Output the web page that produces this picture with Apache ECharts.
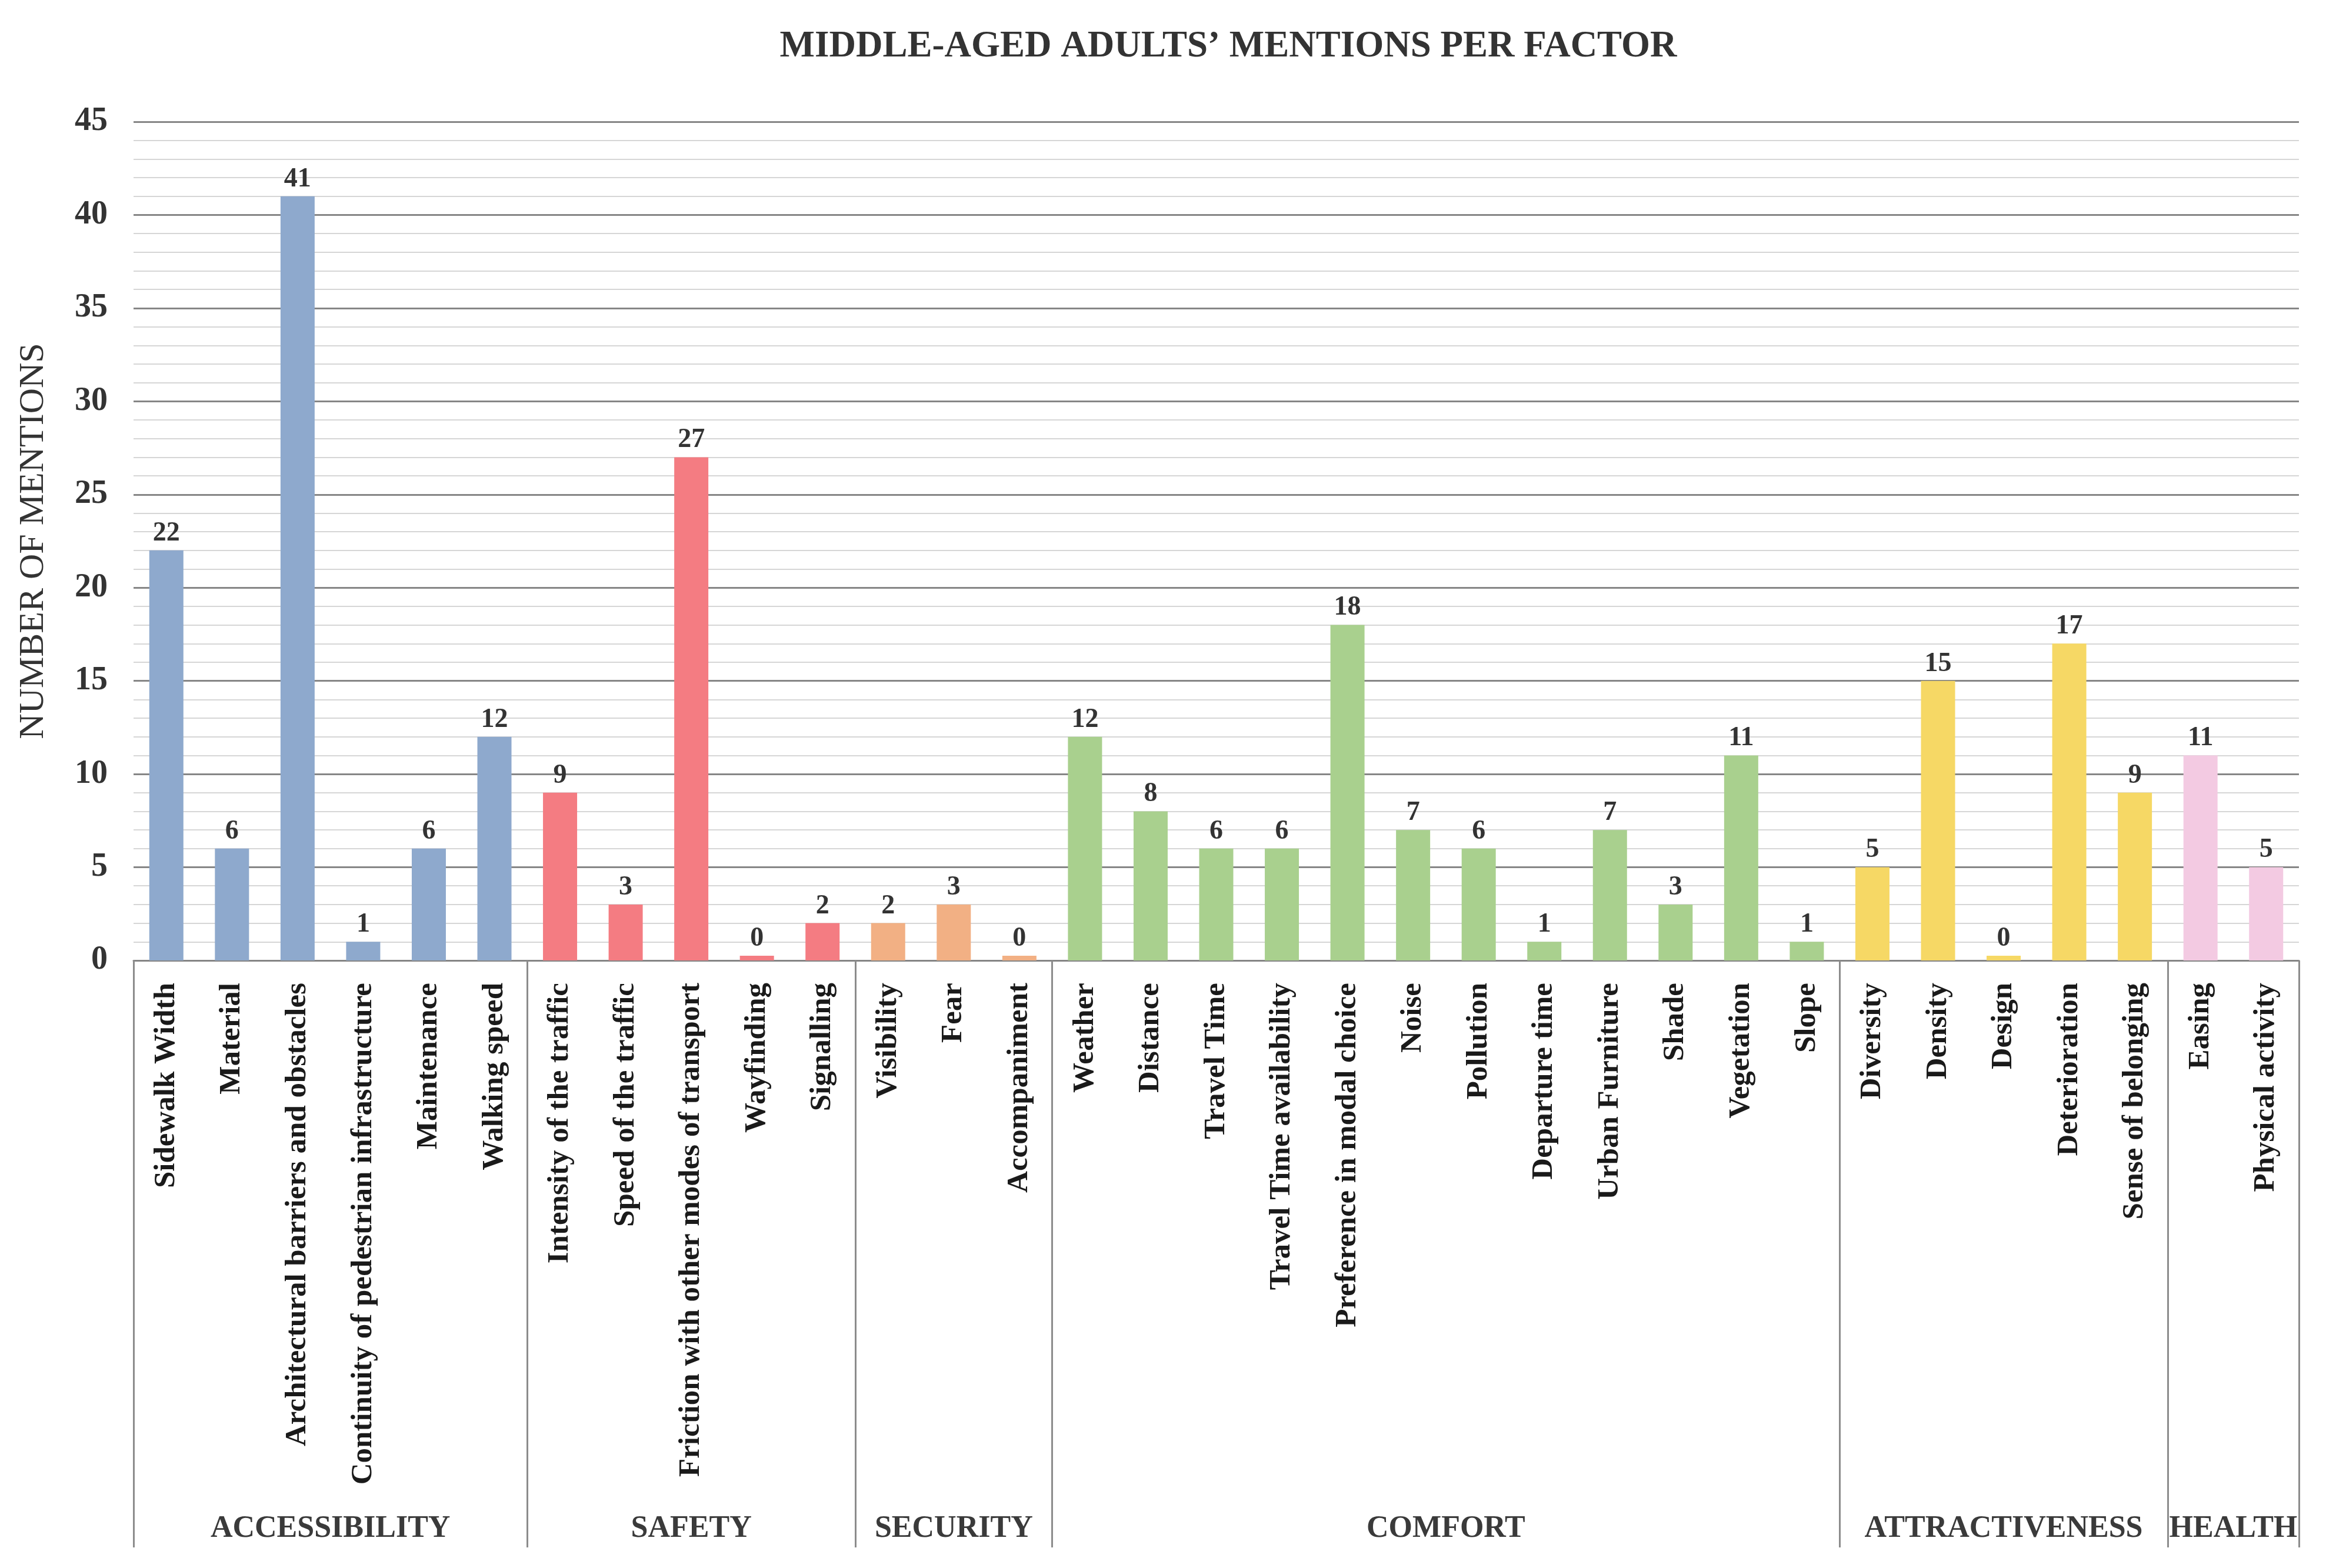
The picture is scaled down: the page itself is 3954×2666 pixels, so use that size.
<!DOCTYPE html>
<html>
<head>
<meta charset="utf-8">
<script src="https://cdn.jsdelivr.net/npm/echarts@6/dist/echarts.min.js"></script>
<style>
html,body{margin:0;padding:0;background:#fff;}
#chart{width:3954px;height:2666px;}
</style>
</head>
<body>
<div id="chart"></div>
<script>
// ---- data ----
const categories = [
  "Sidewalk Width","Material","Architectural barriers and obstacles","Continuity of pedestrian infrastructure","Maintenance","Walking speed",
  "Intensity of the traffic","Speed of the traffic","Friction with other modes of transport","Wayfinding","Signalling",
  "Visibility","Fear","Accompaniment",
  "Weather","Distance","Travel Time","Travel Time availability","Preference in modal choice","Noise","Pollution","Departure time","Urban Furniture","Shade","Vegetation","Slope",
  "Diversity","Density","Design","Deterioration","Sense of belonging",
  "Easing","Physical activity"
];
const values = [
  22, 6, 41, 1, 6, 12,
  9, 3, 27, 0, 2,
  2, 3, 0,
  12, 8, 6, 6, 18, 7, 6, 1, 7, 3, 11, 1,
  5, 15, 0, 17, 9,
  11, 5
];
const groupNames = ["ACCESSIBILITY","SAFETY","SECURITY","COMFORT","ATTRACTIVENESS","HEALTH"];
const groupSizes = [6, 5, 3, 12, 5, 2];
const yTicks = [0, 5, 10, 15, 20, 25, 30, 35, 40, 45];

// ---- styles ----
const groupColors = ["#8EA9CD","#F47C82","#F2B084","#A9D08E","#F6D865","#F3CAE2"];
const FONT = "'Liberation Serif', 'DejaVu Serif', serif";

// derived
const groupStart = [];
let acc = 0;
groupSizes.forEach(s => { groupStart.push(acc); acc += s; });
const barColor = [];
groupSizes.forEach((s, g) => { for (let i = 0; i < s; i++) barColor.push(groupColors[g]); });

const chart = echarts.init(document.getElementById('chart'), null, {renderer: 'canvas'});

const option = {
  backgroundColor: '#ffffff',
  animation: false,
  title: {
    text: "MIDDLE-AGED ADULTS\u2019 MENTIONS PER FACTOR",
    left: 2083,
    textAlign: 'center',
    top: 43,
    textStyle: {fontFamily: FONT, fontWeight: 'bold', fontSize: 63, color: '#333333'}
  },
  grid: {left: 227, right: 46, top: 207, bottom: 1033, containLabel: false},
  xAxis: {
    type: 'category',
    data: categories,
    boundaryGap: true,
    axisLine: {show: true, lineStyle: {color: '#858585', width: 3}},
    axisTick: {
      show: true,
      length: 998,
      interval: function (index) { return groupStart.indexOf(index) >= 0; },
      lineStyle: {color: '#8c8c8c', width: 3}
    },
    axisLabel: {
      interval: 0,
      rotate: 90,
      margin: 38,
      fontFamily: FONT,
      fontWeight: 'bold',
      fontSize: 51,
      color: '#1a1a1a'
    },
    splitLine: {show: false}
  },
  yAxis: {
    type: 'value',
    min: yTicks[0],
    max: yTicks[yTicks.length - 1],
    interval: 5,
    name: 'NUMBER OF MENTIONS',
    nameLocation: 'middle',
    nameRotate: 90,
    nameGap: 140,
    nameTextStyle: {fontFamily: FONT, fontSize: 60, color: '#333333'},
    axisLine: {show: false},
    axisTick: {show: false},
    axisLabel: {
      margin: 44,
      fontFamily: FONT,
      fontWeight: 'bold',
      fontSize: 56,
      color: '#333333'
    },
    splitLine: {show: true, lineStyle: {color: '#868686', width: 3}},
    minorTick: {show: false, splitNumber: 5},
    minorSplitLine: {show: true, lineStyle: {color: '#d6d6d6', width: 2}}
  },
  series: [{
    type: 'bar',
    data: values.map((v, i) => ({value: v, itemStyle: {color: barColor[i]}})),
    barWidth: 58,
    barMinHeight: 8,
    label: {
      show: true,
      position: 'top',
      distance: 6,
      fontFamily: FONT,
      fontWeight: 'bold',
      fontSize: 46,
      color: '#333333'
    }
  }]
};

chart.setOption(option);

// group labels, positioned from the category scale
const graphics = groupNames.map((name, g) => {
  const a = groupStart[g];
  const b = groupStart[g] + groupSizes[g] - 1;
  const xa = chart.convertToPixel({xAxisIndex: 0}, a);
  const xb = chart.convertToPixel({xAxisIndex: 0}, b);
  const y0 = chart.convertToPixel({yAxisIndex: 0}, 0);
  return {
    type: 'text',
    x: (xa + xb) / 2,
    y: y0 + 967,
    style: {
      text: name,
      fontFamily: FONT,
      fontWeight: 'bold',
      fontSize: 52,
      fill: '#3a3a3a',
      align: 'center',
      verticalAlign: 'middle'
    }
  };
});
chart.setOption({graphic: graphics});
</script>
</body>
</html>
